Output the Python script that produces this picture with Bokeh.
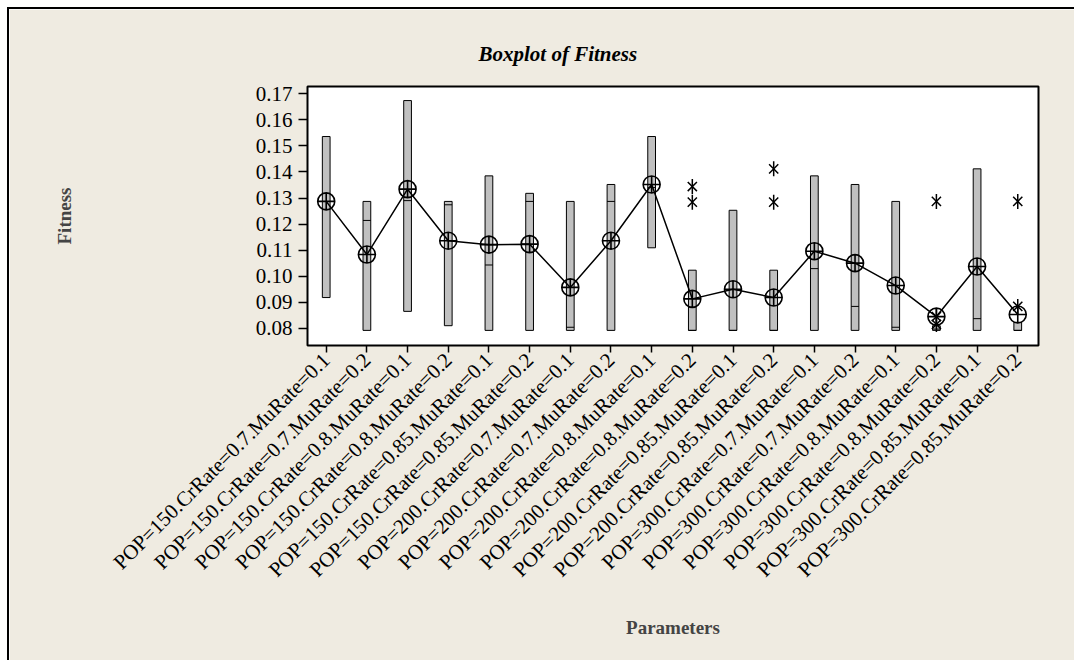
import math
from bokeh.plotting import figure
from bokeh.models import ColumnDataSource, Range1d, FixedTicker
from bokeh.embed import file_html
from bokeh.resources import INLINE

labels = [
    "POP=150.CrRate=0.7.MuRate=0.1", "POP=150.CrRate=0.7.MuRate=0.2",
    "POP=150.CrRate=0.8.MuRate=0.1", "POP=150.CrRate=0.8.MuRate=0.2",
    "POP=150.CrRate=0.85.MuRate=0.1", "POP=150.CrRate=0.85.MuRate=0.2",
    "POP=200.CrRate=0.7.MuRate=0.1", "POP=200.CrRate=0.7.MuRate=0.2",
    "POP=200.CrRate=0.8.MuRate=0.1", "POP=200.CrRate=0.8.MuRate=0.2",
    "POP=200.CrRate=0.85.MuRate=0.1", "POP=200.CrRate=0.85.MuRate=0.2",
    "POP=300.CrRate=0.7.MuRate=0.1", "POP=300.CrRate=0.7.MuRate=0.2",
    "POP=300.CrRate=0.8.MuRate=0.1", "POP=300.CrRate=0.8.MuRate=0.2",
    "POP=300.CrRate=0.85.MuRate=0.1", "POP=300.CrRate=0.85.MuRate=0.2",
]
box_low = [0.0918, 0.0792, 0.0865, 0.0810, 0.0792, 0.0792, 0.0792, 0.0792, 0.1109,
           0.0792, 0.0792, 0.0792, 0.0792, 0.0792, 0.0792, 0.0792, 0.0792, 0.0792]
box_high = [0.1536, 0.1287, 0.1674, 0.1287, 0.1385, 0.1318, 0.1287, 0.1352, 0.1536,
            0.1023, 0.1253, 0.1023, 0.1385, 0.1352, 0.1287, 0.0810, 0.1412, 0.0823]
medians = [0.1318, 0.1214, 0.1290, 0.1274, 0.1043, 0.1287, 0.0804, 0.1287, 0.1340,
           0.0792, 0.0792, 0.0792, 0.1029, 0.0884, 0.0804, 0.0797, 0.0837, 0.0792]
means = [0.1287, 0.1083, 0.1334, 0.1136, 0.1121, 0.1123, 0.0957, 0.1136, 0.1352,
         0.0913, 0.0950, 0.0918, 0.1096, 0.1050, 0.0964, 0.0845, 0.1037, 0.0853]
outlier_group = [9, 9, 11, 11, 15, 15, 15, 17, 17]
outlier_value = [0.1344, 0.1284, 0.1412, 0.1284, 0.1287, 0.0845, 0.0815, 0.1287, 0.0884]
y_ticks = [0.08, 0.09, 0.10, 0.11, 0.12, 0.13, 0.14, 0.15, 0.16, 0.17]

BG = "#EFEBE1"
SERIF = "Liberation Serif"

idx = list(range(len(labels)))
box_w = 0.19
src = ColumnDataSource(dict(x=idx, low=box_low, high=box_high, med=medians, mean=means,
                            x0=[i - box_w / 2 for i in idx], x1=[i + box_w / 2 for i in idx]))
osrc = ColumnDataSource(dict(x=outlier_group, y=outlier_value))

p = figure(width=1067, height=653, output_backend="svg", toolbar_location=None,
           x_range=Range1d(-0.46, 17.51), y_range=Range1d(0.0734, 0.1728),
           min_border_left=298, min_border_right=38, min_border_top=77, min_border_bottom=317,
           title="Boxplot of Fitness")
p.background_fill_color = "white"
p.border_fill_color = BG
p.outline_line_color = "black"
p.outline_line_width = 2
p.grid.visible = False
p.styles = {"margin-left": "7px", "margin-top": "7px",
            "border-top": "2px solid black", "border-left": "2px solid black"}

p.title.align = "left"
p.title.offset = 171
p.title.text_font = SERIF
p.title.text_font_style = "bold italic"
p.title.text_font_size = "21px"
p.title.text_color = "black"
p.title.vertical_align = "bottom"
p.title.standoff = 42

# boxes
p.vbar(x="x", width=box_w, top="high", bottom="low", source=src,
       fill_color="#C0C0C0", line_color="black", line_width=1)
p.segment(x0="x0", x1="x1", y0="med", y1="med", source=src, line_color="black", line_width=1)
# mean connect line
p.line(x="x", y="mean", source=src, line_color="black", line_width=1.5)
p.scatter(x="x", y="mean", source=src, marker="circle_cross", size=17,
          fill_color=None, line_color="black", line_width=1.6)
# outliers (asterisks)
p.scatter(x="x", y="y", source=osrc, marker="x", size=13, line_color="black", line_width=1.5)
p.scatter(x="x", y="y", source=osrc, marker="dash", angle=math.pi / 2, size=15,
          line_color="black", line_width=1.5)

# axes
xa = p.xaxis[0]
xa.ticker = FixedTicker(ticks=idx)
xa.major_label_overrides = {i: lab for i, lab in enumerate(labels)}
xa.major_label_orientation = math.pi / 4
xa.minor_tick_line_color = None
xa.major_tick_in = 0
xa.major_tick_out = 7
xa.major_tick_line_width = 1.5
xa.axis_line_color = None
xa.major_label_text_font = SERIF
xa.major_label_text_font_size = "21px"
xa.major_label_text_color = "black"
xa.major_label_standoff = 4
xa.axis_label = "Parameters"
xa.axis_label_text_font = SERIF
xa.axis_label_text_font_style = "bold"
xa.axis_label_text_font_size = "19px"
xa.axis_label_standoff = 24

ya = p.yaxis[0]
ya.ticker = FixedTicker(ticks=y_ticks)
ya.major_label_overrides = {t: f"{t:.2f}" for t in y_ticks}
ya.minor_tick_line_color = None
ya.major_tick_in = 0
ya.major_tick_out = 9
ya.major_tick_line_width = 1.5
ya.axis_line_color = None
ya.major_label_text_font = SERIF
ya.major_label_text_font_size = "21px"
ya.major_label_text_color = "black"
ya.major_label_standoff = 6
ya.axis_label = "Fitness"
ya.axis_label_text_font = SERIF
ya.axis_label_text_font_style = "bold"
ya.axis_label_text_font_size = "19px"
ya.axis_label_standoff = 178

open("out.html", "w").write(file_html(p, INLINE))
